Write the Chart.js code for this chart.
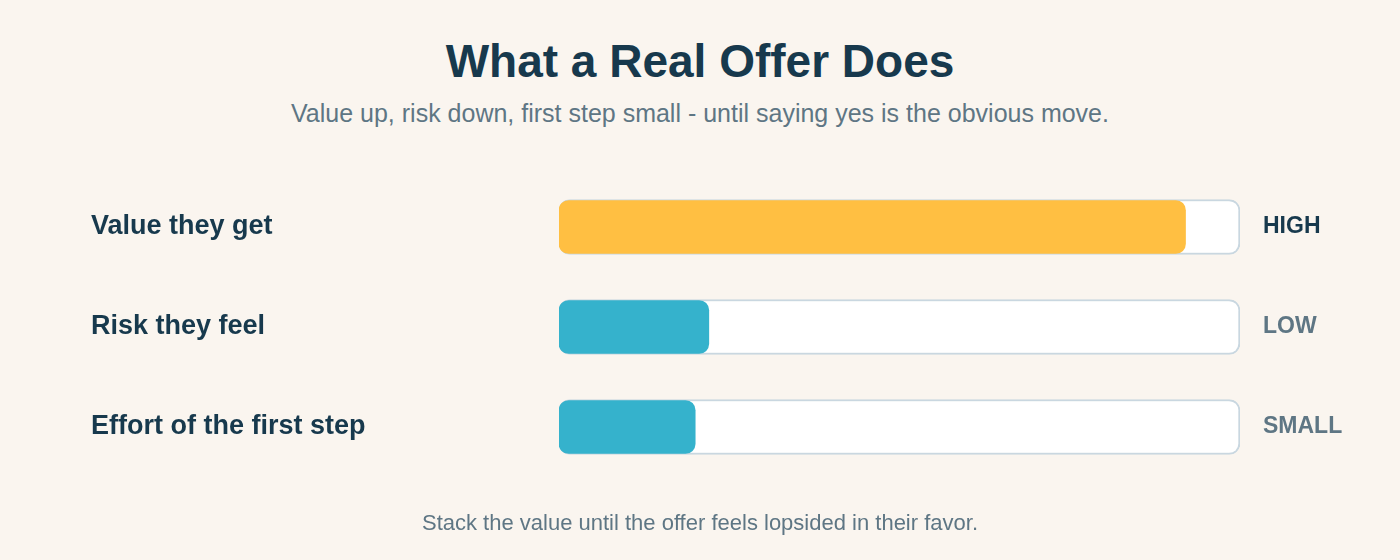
<!DOCTYPE html>
<html>
<head>
<meta charset="utf-8">
<script src="https://cdn.jsdelivr.net/npm/chart.js@4.4.1/dist/chart.umd.min.js"></script>
<style>
  html, body { margin: 0; padding: 0; background: #faf5ef; }
  body { width: 1400px; height: 560px; position: relative; overflow: hidden; font-family: "Liberation Sans", Arial, Helvetica, sans-serif; }
  .txt { position: absolute; left: 0; width: 1400px; text-align: center; white-space: nowrap; }
  #title { top: 31px; line-height: 60px; font-size: 46px; font-weight: bold; color: #17394d; }
  #subtitle { top: 98px; line-height: 30px; font-size: 25px; color: #5e7684; }
  #footer { top: 508px; line-height: 30px; font-size: 22px; color: #5e7684; }
  canvas { position: absolute; left: 0; top: 0; }
</style>
</head>
<body>
<div class="txt" id="title">What a Real Offer Does</div>
<div class="txt" id="subtitle">Value up, risk down, first step small - until saying yes is the obvious move.</div>
<canvas id="chart" width="1400" height="560"></canvas>
<div class="txt" id="footer">Stack the value until the offer feels lopsided in their favor.</div>
<script>
const categories = ['Value they get', 'Risk they feel', 'Effort of the first step']
const levels = ['HIGH', 'LOW', 'SMALL']
const values = [92, 22, 20]
const trackMax = [100, 100, 100]

const DARK = '#17394d'
const GREY = '#5e7684'
const ORANGE = '#ffbf42'
const BLUE = '#35b2cc'

Chart.defaults.font.family = '"Liberation Sans", Arial, Helvetica, sans-serif'

const ctx = document.getElementById('chart')

new Chart(ctx, {
  type: 'bar',
  data: {
    labels: categories,
    datasets: [
      {
        // the filled part
        data: values,
        order: 0,
        grouped: false,
        barThickness: 53,
        backgroundColor: values.map((v, i) => (i === 0 ? ORANGE : BLUE)),
        borderWidth: 0,
        borderRadius: 10,
        borderSkipped: false
      },
      {
        // white track behind
        data: trackMax,
        order: 1,
        grouped: false,
        barThickness: 55,
        backgroundColor: '#ffffff',
        borderColor: '#c9d7e0',
        borderWidth: 2,
        borderRadius: 11,
        borderSkipped: false
      }
    ]
  },
  options: {
    indexAxis: 'y',
    responsive: false,
    animation: false,
    layout: {
      padding: { top: 177, bottom: 83, left: 91, right: 0 }
    },
    plugins: {
      legend: { display: false },
      tooltip: { enabled: false },
      title: { display: false }
    },
    scales: {
      x: {
        display: false,
        min: 0,
        max: 100
      },
      y: {
        type: 'category',
        position: 'left',
        grid: { display: false },
        border: { display: false },
        ticks: {
          autoSkip: false,
          crossAlign: 'far',
          padding: 0,
          color: DARK,
          font: { size: 27, weight: 'bold' }
        },
        afterFit: (scale) => {
          scale.width = 468
        }
      },
      y2: {
        type: 'category',
        position: 'right',
        labels: levels,
        grid: { display: false },
        border: { display: false },
        ticks: {
          autoSkip: false,
          crossAlign: 'near',
          padding: 15,
          color: (c) => (c.index === 0 ? DARK : GREY),
          font: { size: 23, weight: 'bold' }
        },
        afterFit: (scale) => {
          scale.width = 160
        }
      }
    }
  }
})
</script>
</body>
</html>
